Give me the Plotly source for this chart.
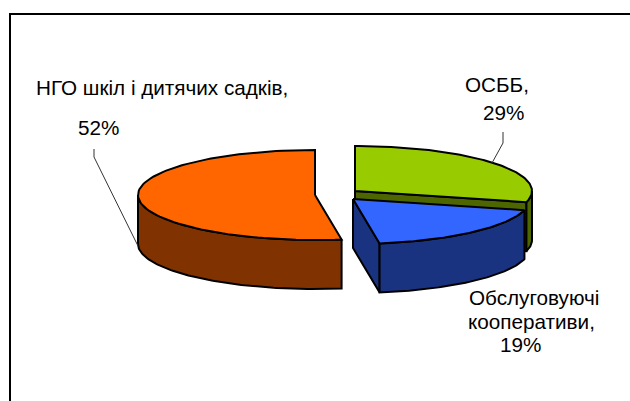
import numpy as np
import plotly.graph_objects as go

categories = ["НГО шкіл і дитячих садків", "ОСББ", "Обслуговуючі кооперативи"]
values = [52.4, 29.0, 18.6]          # share of the whole, percent
label_pct = ["52%", "29%", "19%"]
top_colors = ["#FF6600", "#99CC00", "#3366FF"]
side_colors = ["#803300", "#4D6600", "#1A3380"]

# Projection of the pie (pixel space of the 630x401 page)
RX, RY, DEPTH = 177, 45, 49
CENTERS = {"НГО шкіл і дитячих садків": (315, 195),
           "ОСББ": (355, 191),
           "Обслуговуючі кооперативи": (353, 199)}

# Slice angles, clockwise from 12 o'clock
green_end = values[1] * 3.6
blue_end = green_end + values[2] * 3.6
orange_start = blue_end
spans = {categories[1]: (0, green_end),
         categories[2]: (green_end, blue_end),
         categories[0]: (orange_start, 360)}


def arc(center, a0, a1, dz=0, n=90):
    t = np.radians(np.linspace(a0, a1, n))
    return center[0] + RX * np.sin(t), center[1] - RY * np.cos(t) + dz


fig = go.Figure()


def poly(xs, ys, color):
    fig.add_trace(go.Scatter(
        x=list(xs) + [xs[0]], y=list(ys) + [ys[0]], mode="lines", fill="toself",
        fillcolor=color, line=dict(color="black", width=2), hoverinfo="skip",
        showlegend=False))


def apex_prism(c, angle, color):
    """Vertical cut face from the apex to the rim at the given angle."""
    ex, ey = arc(c, angle, angle, n=1)
    poly([c[0], ex[0], ex[0], c[0]], [c[1], ey[0], ey[0] + DEPTH, c[1] + DEPTH], color)


def outer_wall(c, a0, a1, color):
    x0, y0 = arc(c, a0, a1)
    x1, y1 = arc(c, a1, a0, dz=DEPTH)
    poly(np.r_[x0, x1], np.r_[y0, y1], color)


def top_face(c, a0, a1, color):
    x, y = arc(c, a0, a1)
    poly(np.r_[c[0], x], np.r_[c[1], y], color)


# Green slice (back)
c = CENTERS[categories[1]]
a0, a1 = spans[categories[1]]
apex_prism(c, a1, side_colors[1])
outer_wall(c, 90, a1, side_colors[1])
top_face(c, a0, a1, top_colors[1])

# Blue slice (front right)
c = CENTERS[categories[2]]
a0, a1 = spans[categories[2]]
apex_prism(c, a1, side_colors[2])
outer_wall(c, a0, a1, side_colors[2])
top_face(c, a0, a1, top_colors[2])

# Orange slice (left)
c = CENTERS[categories[0]]
a0, a1 = spans[categories[0]]
outer_wall(c, a0, 270, side_colors[0])
top_face(c, a0, a1, top_colors[0])

shapes = [
    # chart frame (top and left edges only are inside the picture)
    dict(type="line", x0=9, y0=14, x1=630, y1=14, line=dict(color="black", width=2)),
    dict(type="line", x0=10, y0=14, x1=10, y1=401, line=dict(color="black", width=2)),
    # leader lines
    dict(type="path", path="M94,149 L94,157 L138,246", line=dict(color="#333333", width=1)),
    dict(type="path", path="M503,132 L503,143 L492,163", line=dict(color="#333333", width=1)),
]

label_lines = [
    (162, 87, categories[0] + ","),
    (98, 127, label_pct[0]),
    (497, 84, categories[1] + ","),
    (503, 112, label_pct[1]),
    (534, 297, categories[2].split()[0]),
    (531, 321, categories[2].split()[1] + ","),
    (520, 344, label_pct[2]),
]
annotations = [
    dict(x=x, y=y, text=t, showarrow=False, xanchor="center", yanchor="middle",
         font=dict(family="Liberation Sans", size=20.7, color="black"))
    for x, y, t in label_lines
]

fig.update_layout(
    width=630, height=401, margin=dict(l=0, r=0, t=0, b=0),
    paper_bgcolor="white", plot_bgcolor="white", showlegend=False,
    xaxis=dict(range=[0, 630], visible=False, fixedrange=True),
    yaxis=dict(range=[401, 0], visible=False, fixedrange=True),
    shapes=shapes, annotations=annotations,
)
fig.write_html("out.html", config=dict(displayModeBar=False),
               post_script="document.body.style.margin='0';document.body.style.overflow='hidden';")
